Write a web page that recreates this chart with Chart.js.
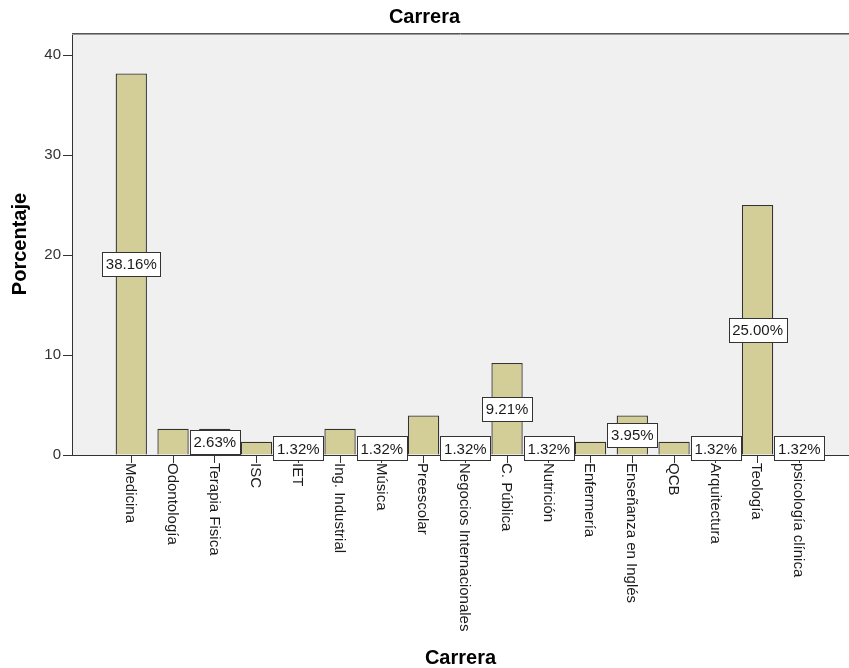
<!DOCTYPE html>
<html>
<head>
<meta charset="utf-8">
<script src="https://cdn.jsdelivr.net/npm/chart.js@4"></script>
<style>
  html, body { margin: 0; padding: 0; background: #ffffff; overflow: hidden; }
  #c { display: block; }
</style>
</head>
<body>
<canvas id="c" width="849" height="668"></canvas>
<script>
// ---- data ----
const categories = [
  "Medicina", "Odontología", "Terapia Fisica", "ISC", "IET", "Ing. Industrial",
  "Música", "Preescolar", "Negocios Internacionales", "C. Pública", "Nutrición",
  "Enfermería", "Enseñanza en Inglés", "QCB", "Arquitectura", "Teología", "psicología clínica"
];
const percentages = [38.16, 2.63, 2.63, 1.32, 1.32, 2.63, 1.32, 3.95, 1.32, 9.21, 1.32, 1.32, 3.95, 1.32, 1.32, 25.00, 1.32];
const labeledBars = [0, 2, 4, 6, 8, 9, 10, 12, 14, 15, 16];
const yTicks = [0, 10, 20, 30, 40];
const chartTitle = "Carrera";
const xTitle = "Carrera";
const yTitle = "Porcentaje";

const FONT = "'Liberation Sans', Arial, sans-serif";

const plotBg = {
  id: 'plotBg',
  beforeDraw(chart) {
    const { ctx, chartArea: a } = chart;
    ctx.save();
    ctx.fillStyle = '#F0F0F0';
    ctx.fillRect(a.left, a.top, a.right - a.left, a.bottom - a.top);
    ctx.restore();
  },
  afterDraw(chart) {
    const { ctx, chartArea: a } = chart;
    ctx.save();
    ctx.strokeStyle = '#555555';
    ctx.lineWidth = 1;
    ctx.beginPath();
    ctx.moveTo(a.left, a.top + 0.5);
    ctx.lineTo(a.right, a.top + 0.5);
    ctx.stroke();
    ctx.strokeStyle = '#9a9a9a';
    ctx.beginPath();
    ctx.moveTo(a.left, a.top + 1.5);
    ctx.lineTo(a.right, a.top + 1.5);
    ctx.stroke();
    ctx.restore();
  }
};

const labelsPlugin = {
  id: 'labelsPlugin',
  afterDraw(chart) {
    const { ctx } = chart;
    const xs = chart.scales.x, ys = chart.scales.y;
    ctx.save();
    // rotated category labels (reading top to bottom)
    ctx.font = '15px ' + FONT;
    ctx.fillStyle = '#1a1a1a';
    ctx.textAlign = 'left';
    ctx.textBaseline = 'middle';
    categories.forEach((c, i) => {
      const px = xs.getPixelForValue(i);
      ctx.save();
      ctx.translate(px - 1, ys.bottom + 8);
      ctx.rotate(Math.PI / 2);
      ctx.fillText(c, 0, 0);
      ctx.restore();
    });
    // value boxes
    const meta = chart.getDatasetMeta(0);
    ctx.font = '15px ' + FONT;
    ctx.textAlign = 'center';
    ctx.textBaseline = 'middle';
    labeledBars.forEach(i => {
      const v = percentages[i];
      const txt = v.toFixed(2) + '%';
      const cx = meta.data[i].x;
      const cy = ys.getPixelForValue(v / 2);
      const w = Math.round(ctx.measureText(txt).width + 7);
      const h = 24;
      const l = Math.round(cx - w / 2) + 0.5, t = Math.round(cy - h / 2) + 0.5;
      ctx.fillStyle = '#ffffff';
      ctx.fillRect(l, t, w, h);
      ctx.strokeStyle = '#333333';
      ctx.lineWidth = 1;
      ctx.strokeRect(l, t, w, h);
      ctx.fillStyle = '#1a1a1a';
      ctx.fillText(txt, cx, cy + 1);
    });
    ctx.restore();
  }
};

new Chart(document.getElementById('c'), {
  type: 'bar',
  data: {
    datasets: [{
      data: categories.map((c, i) => ({ x: i, y: percentages[i] })),
      backgroundColor: '#D3CE97',
      borderColor: '#333333',
      borderWidth: 1.3,
      barPercentage: 0.75,
      categoryPercentage: 1
    }]
  },
  options: {
    responsive: false,
    animation: false,
    devicePixelRatio: 1,
    layout: { padding: 0 },
    plugins: {
      legend: { display: false },
      tooltip: { enabled: false },
      title: {
        display: true,
        text: chartTitle,
        color: '#000000',
        font: { family: FONT, size: 20, weight: 'bold', lineHeight: 1.2 },
        padding: { top: 5, bottom: 4 }
      }
    },
    scales: {
      x: {
        type: 'linear',
        offset: false,
        min: -1.42,
        max: 17.19,
        afterBuildTicks: s => { s.ticks = categories.map((c, i) => ({ value: i })); },
        afterFit: s => { s.height = 213; },
        ticks: { display: false },
        grid: { display: true, offset: false, drawOnChartArea: false, drawTicks: true, tickLength: 8, color: '#333333', lineWidth: 1 },
        border: { display: true, color: '#333333', width: 1 },
        title: {
          display: true,
          text: xTitle,
          color: '#000000',
          font: { family: FONT, size: 20, weight: 'bold', lineHeight: 1.0 },
          padding: { top: 0, bottom: 0 }
        }
      },
      y: {
        min: 0,
        max: 42.2,
        afterBuildTicks: s => { s.ticks = yTicks.map(v => ({ value: v })); },
        afterFit: s => { s.width = 72; },
        ticks: { color: '#333333', font: { family: FONT, size: 15 }, padding: 2 },
        grid: { display: true, drawOnChartArea: false, drawTicks: true, tickLength: 9, color: '#333333', lineWidth: 1 },
        border: { display: true, color: '#333333', width: 1 },
        title: {
          display: true,
          text: yTitle,
          color: '#000000',
          font: { family: FONT, size: 20, weight: 'bold', lineHeight: 1.2 },
          padding: { top: 8, bottom: 0 }
        }
      }
    }
  },
  plugins: [plotBg, labelsPlugin]
});
</script>
</body>
</html>
